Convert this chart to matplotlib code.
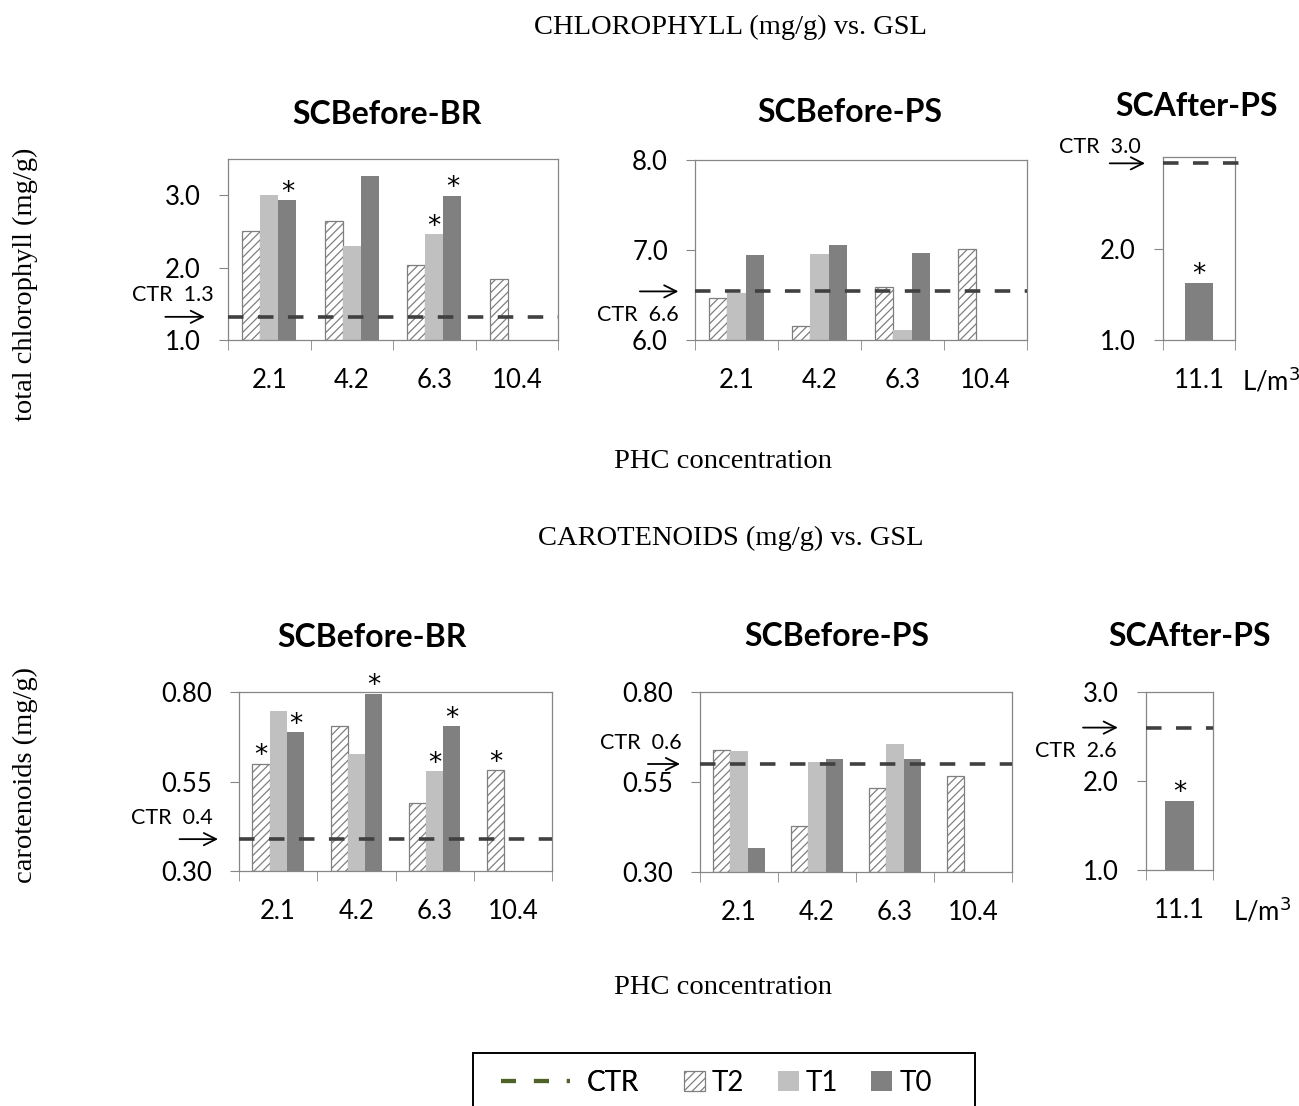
import numpy as np
import matplotlib
matplotlib.use('Agg')
import matplotlib.pyplot as plt
import matplotlib.transforms as mtransforms
from matplotlib.lines import Line2D
from matplotlib.patches import Patch, Rectangle

plt.rcParams['font.family'] = ['Lato', 'DejaVu Sans']
plt.rcParams['hatch.linewidth'] = 0.9

# ---- data -------------------------------------------------------------
conc = ['2.1', '4.2', '6.3', '10.4']
conc_after = ['11.1']
nan = np.nan

chl_br_t2 = [2.51, 2.65, 2.03, 1.84]
chl_br_t1 = [3.00, 2.30, 2.46, nan]
chl_br_t0 = [2.93, 3.26, 2.99, nan]
chl_br_ctr, chl_br_ctr_lbl = 1.32, '1.3'
chl_br_stars = [(0, 'T0'), (2, 'T1'), (2, 'T0')]

chl_ps_t2 = [6.47, 6.16, 6.59, 7.01]
chl_ps_t1 = [6.52, 6.96, 6.11, nan]
chl_ps_t0 = [6.94, 7.06, 6.97, nan]
chl_ps_ctr, chl_ps_ctr_lbl = 6.54, '6.6'
chl_ps_stars = []

chl_after_t0 = [1.63]
chl_after_ctr, chl_after_ctr_lbl = 2.95, '3.0'
chl_after_stars = [(0, 'T0')]

car_br_t2 = [0.600, 0.705, 0.491, 0.581]
car_br_t1 = [0.747, 0.628, 0.578, nan]
car_br_t0 = [0.687, 0.795, 0.704, nan]
car_br_ctr, car_br_ctr_lbl = 0.389, '0.4'
car_br_stars = [(0, 'T2'), (0, 'T0'), (1, 'T0'), (2, 'T1'), (2, 'T0'), (3, 'T2')]

car_ps_t2 = [0.640, 0.427, 0.533, 0.566]
car_ps_t1 = [0.635, 0.606, 0.656, nan]
car_ps_t0 = [0.368, 0.614, 0.614, nan]
car_ps_ctr, car_ps_ctr_lbl = 0.600, '0.6'
car_ps_stars = []

car_after_t0 = [1.78]
car_after_ctr, car_after_ctr_lbl = 2.60, '2.6'
car_after_stars = [(0, 'T0')]

# ---- styling ----------------------------------------------------------
W, H = 1299, 1106
FRAME = '#868686'
C_T1 = '#c0c0c0'
C_T0 = '#808080'
C_CTR = '#404040'
SERIF = 'Liberation Serif'
TICK_FS = 18.5

fig = plt.figure(figsize=(W / 100, H / 100), dpi=100)


def add_axes(x0, y0, x1, y1):
    # pixel box (top-left origin) -> figure fraction
    return fig.add_axes([x0 / W, 1 - y1 / H, (x1 - x0) / W, (y1 - y0) / H])


def draw_panel(ax, cats, series, ylim, yticks, yfmt, ctr, ctr_lbl, stars,
               arrow, title, title_off, bar_w=0.22, unit_x=None, ctr_xmax=1.0):
    x = np.arange(len(cats))
    names = list(series.keys())
    offs = (np.arange(len(names)) - (len(names) - 1) / 2) * bar_w
    y0 = ylim[0]
    tops = {}
    for name, off in zip(names, offs):
        vals = np.array(series[name], dtype=float)
        tops[name] = (x + off, vals)
        if name == 'T2':
            ax.bar(x + off, vals - y0, bottom=y0, width=bar_w, color='white',
                   edgecolor='#7f7f7f', hatch='////', linewidth=0.9, zorder=2)
        else:
            ax.bar(x + off, vals - y0, bottom=y0, width=bar_w,
                   color=C_T1 if name == 'T1' else C_T0, linewidth=0, zorder=2)

    for ci, name in stars:
        xs, vals = tops[name]
        ax.annotate('*', (xs[ci], vals[ci]), xytext=(0, -4), textcoords='offset points',
                    ha='center', va='bottom', fontsize=19, family='DejaVu Sans', zorder=4)

    ax.axhline(ctr, xmin=0, xmax=ctr_xmax, color=C_CTR, lw=2.6,
               linestyle=(0, (4.3, 4.0)), zorder=3, clip_on=False)

    # CTR arrow + label (x in axes fraction, y in data)
    trans = mtransforms.blended_transform_factory(ax.transAxes, ax.transData)
    ax_from, ax_to, txt_x, txt_dy = arrow
    ax.annotate('', xy=(ax_to, ctr), xytext=(ax_from, ctr), xycoords=trans,
                textcoords=trans, annotation_clip=False,
                arrowprops=dict(arrowstyle='->', color='black', lw=1.3,
                                mutation_scale=22, shrinkA=0, shrinkB=0))
    ax.annotate('CTR  ' + ctr_lbl, xy=(txt_x, ctr), xycoords=trans,
                xytext=(0, txt_dy), textcoords='offset points',
                ha='center', va='center', fontsize=15.5, annotation_clip=False)

    ax.set_xlim(-0.5, len(cats) - 0.5)
    ax.set_ylim(*ylim)
    ax.set_yticks(yticks)
    ax.set_yticklabels([yfmt.format(v) for v in yticks])
    ax.set_xticks(x)
    ax.set_xticklabels(cats)
    ax.set_xticks(np.arange(len(cats) + 1) - 0.5, minor=True)
    ax.tick_params(axis='x', which='major', length=0, pad=20, labelsize=TICK_FS)
    ax.tick_params(axis='x', which='minor', length=7.5, color=FRAME, direction='out')
    ax.tick_params(axis='y', length=6.5, color=FRAME, direction='out', pad=13,
                   labelsize=TICK_FS)
    for s in ax.spines.values():
        s.set_color(FRAME)
        s.set_linewidth(0.9)

    ax.annotate(title, xy=(0.5, 1), xycoords='axes fraction',
                xytext=title_off, textcoords='offset points',
                ha='center', va='center', fontsize=23, fontweight='bold')
    if unit_x is not None:
        ax.annotate('L/m$^3$', xy=(unit_x, 0), xycoords='axes fraction',
                    xytext=(0, -29), textcoords='offset points',
                    ha='center', va='center', fontsize=TICK_FS)


# ---- top row: chlorophyll ---------------------------------------------
ax = add_axes(228, 159, 558, 340)
draw_panel(ax, conc, {'T2': chl_br_t2, 'T1': chl_br_t1, 'T0': chl_br_t0},
           (1.0, 3.5), [1.0, 2.0, 3.0], '{:.1f}', chl_br_ctr, chl_br_ctr_lbl,
           chl_br_stars, (-0.19, -0.07, -0.167, 16), 'SCBefore-BR', (-4, 32))

ax = add_axes(695, 160, 1027, 340)
draw_panel(ax, conc, {'T2': chl_ps_t2, 'T1': chl_ps_t1, 'T0': chl_ps_t0},
           (6.0, 8.0), [6.0, 7.0, 8.0], '{:.1f}', chl_ps_ctr, chl_ps_ctr_lbl,
           chl_ps_stars, (-0.166, -0.05, -0.173, -17), 'SCBefore-PS', (-8, 34))

ax = add_axes(1163, 157, 1235, 340)
draw_panel(ax, conc_after, {'T0': chl_after_t0},
           (1.0, 3.02), [1.0, 2.0], '{:.1f}', chl_after_ctr, chl_after_ctr_lbl,
           chl_after_stars, (-0.74, -0.25, -0.875, 12), 'SCAfter-PS', (-2, 36),
           bar_w=0.4, unit_x=1.5, ctr_xmax=1.08)

# ---- bottom row: carotenoids ------------------------------------------
ax = add_axes(239, 692, 552, 871)
draw_panel(ax, conc, {'T2': car_br_t2, 'T1': car_br_t1, 'T0': car_br_t0},
           (0.30, 0.80), [0.30, 0.55, 0.80], '{:.2f}', car_br_ctr, car_br_ctr_lbl,
           car_br_stars, (-0.19, -0.067, -0.216, 15), 'SCBefore-BR', (-17, 39))

ax = add_axes(700, 692, 1012, 872)
draw_panel(ax, conc, {'T2': car_ps_t2, 'T1': car_ps_t1, 'T0': car_ps_t0},
           (0.30, 0.80), [0.30, 0.55, 0.80], '{:.2f}', car_ps_ctr, car_ps_ctr_lbl,
           car_ps_stars, (-0.167, -0.064, -0.19, 15), 'SCBefore-PS', (-14, 40))

ax = add_axes(1146, 692, 1213, 870)
draw_panel(ax, conc_after, {'T0': car_after_t0},
           (1.0, 3.0), [1.0, 2.0, 3.0], '{:.1f}', car_after_ctr, car_after_ctr_lbl,
           car_after_stars, (-0.94, -0.42, -1.05, -17), 'SCAfter-PS', (7, 40),
           bar_w=0.42, unit_x=1.73)

# ---- figure-level texts -----------------------------------------------
SERIF_FS = 20.5
fig.text(731 / W, 1 - 27 / H, 'CHLOROPHYLL (mg/g) vs. GSL', ha='center', va='center',
         family=SERIF, fontsize=SERIF_FS)
fig.text(723 / W, 1 - 462 / H, 'PHC concentration', ha='center', va='center',
         family=SERIF, fontsize=SERIF_FS)
fig.text(25 / W, 1 - 284 / H, 'total chlorophyll (mg/g)', ha='center', va='center',
         rotation=90, family=SERIF, fontsize=SERIF_FS)
fig.text(731 / W, 1 - 538 / H, 'CAROTENOIDS (mg/g) vs. GSL', ha='center', va='center',
         family=SERIF, fontsize=SERIF_FS)
fig.text(723 / W, 1 - 988 / H, 'PHC concentration', ha='center', va='center',
         family=SERIF, fontsize=SERIF_FS)
fig.text(25 / W, 1 - 775 / H, 'carotenoids (mg/g)', ha='center', va='center',
         rotation=90, family=SERIF, fontsize=SERIF_FS)

# ---- legend (box runs off the bottom edge) ----------------------------
fig.patches.append(Rectangle((473 / W, -0.02), (975 - 473) / W, (0.02 + 1 - 1053 / H),
                             transform=fig.transFigure, fill=False, edgecolor='black',
                             linewidth=1.4))
leg1 = fig.legend(handles=[Line2D([], [], color='#4f6228', lw=3.0, linestyle=(0, (3.6, 4.3)))],
                  labels=['CTR'], loc='center', bbox_to_anchor=(570 / W, 1 - 1083 / H),
                  frameon=False, fontsize=20, handlelength=2.5, handletextpad=0.6)
fig.legend(handles=[Patch(facecolor='white', edgecolor='#7f7f7f', hatch='////', lw=0.9),
                    Patch(facecolor=C_T1, lw=0),
                    Patch(facecolor=C_T0, lw=0)],
           labels=['T2', 'T1', 'T0'], loc='center', bbox_to_anchor=(808 / W, 1 - 1083 / H),
           ncol=3, frameon=False, fontsize=20, handlelength=0.75, handleheight=0.75,
           handletextpad=0.25, columnspacing=1.2)
fig.add_artist(leg1)

fig.savefig('out.png', dpi=100)
